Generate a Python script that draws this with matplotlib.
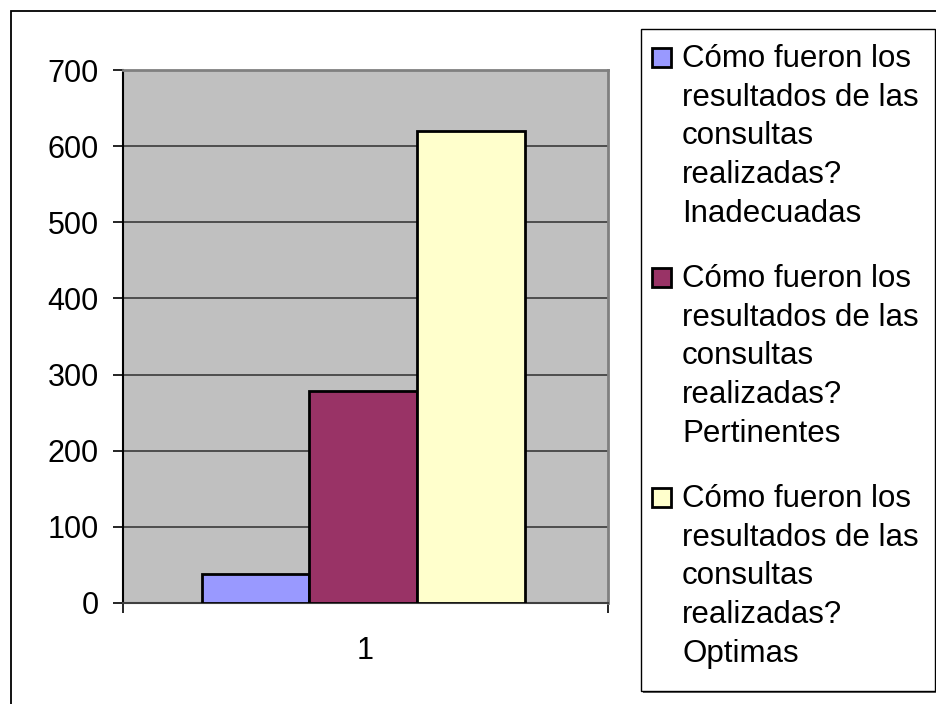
import matplotlib.pyplot as plt
from matplotlib.patches import Rectangle

plt.rcParams['font.family'] = ['Liberation Sans', 'DejaVu Sans']

# data
categories = ['1']
series = [
    'Cómo fueron los\nresultados de las\nconsultas\nrealizadas?\nInadecuadas',
    'Cómo fueron los\nresultados de las\nconsultas\nrealizadas?\nPertinentes',
    'Cómo fueron los\nresultados de las\nconsultas\nrealizadas?\nOptimas',
]
values = [38, 278, 620]
colors = ['#9999ff', '#993366', '#ffffcc']
yticks = [0, 100, 200, 300, 400, 500, 600, 700]

W, H = 936, 704
fig = plt.figure(figsize=(W / 100, H / 100), dpi=100)


def fx(x):
    return x / W


def fy(y):
    return 1 - y / H


# outer chart border
fig.patches.append(Rectangle((fx(11), -0.1), 1.2, fy(11) + 0.1, transform=fig.transFigure,
                             facecolor='none', edgecolor='black', linewidth=1.3))

ax = fig.add_axes([fx(123), fy(603), (608 - 123) / W, (603 - 70) / H])
ax.set_facecolor('#c0c0c0')

w = 0.222
offsets = [-w, 0, w]
for v, c, off in zip(values, colors, offsets):
    ax.bar(0.995 + off, v, width=w, color=c, edgecolor='black', linewidth=2, zorder=3)

ax.set_xlim(0.5, 1.5)
ax.set_ylim(0, 700)
ax.set_yticks(yticks)
ax.yaxis.grid(True, color='#3a3a3a', linewidth=1.2)
ax.set_axisbelow(True)

ax.set_xticks([0.5, 1.5])
ax.set_xticklabels(['', ''])
ax.set_xticks([1], labels=categories, minor=True)
ax.tick_params(axis='x', which='major', direction='out', length=7, width=1.2)
ax.tick_params(axis='x', which='minor', length=0, pad=24, labelsize=22)
ax.tick_params(axis='y', direction='out', length=7, width=1.2, pad=10.5, labelsize=22)

ax.spines['left'].set_color('black')
ax.spines['left'].set_linewidth(1.5)
ax.spines['bottom'].set_color('#404040')
ax.spines['bottom'].set_linewidth(1.5)
for s in ['top', 'right']:
    ax.spines[s].set_color('#808080')
    ax.spines[s].set_linewidth(2)

# legend box
fig.patches.append(Rectangle((fx(643), fy(693)), (935 - 641) / W, (691 - 29) / H,
                             transform=fig.transFigure, facecolor='#606060',
                             edgecolor='none'))
fig.patches.append(Rectangle((fx(641), fy(691)), (935 - 641) / W, (691 - 29) / H,
                             transform=fig.transFigure, facecolor='white',
                             edgecolor='black', linewidth=1))
for i, (label, c) in enumerate(zip(series, colors)):
    y0 = 58 + 220 * i
    fig.patches.append(Rectangle((fx(652), fy(y0 + 9)), 19 / W, 19 / H,
                                 transform=fig.transFigure, facecolor=c,
                                 edgecolor='black', linewidth=2))
    fig.text(fx(682), fy(y0 - 14), label, fontsize=22.5, va='top', ha='left',
             linespacing=1.38)

fig.savefig('out.png', dpi=100)
